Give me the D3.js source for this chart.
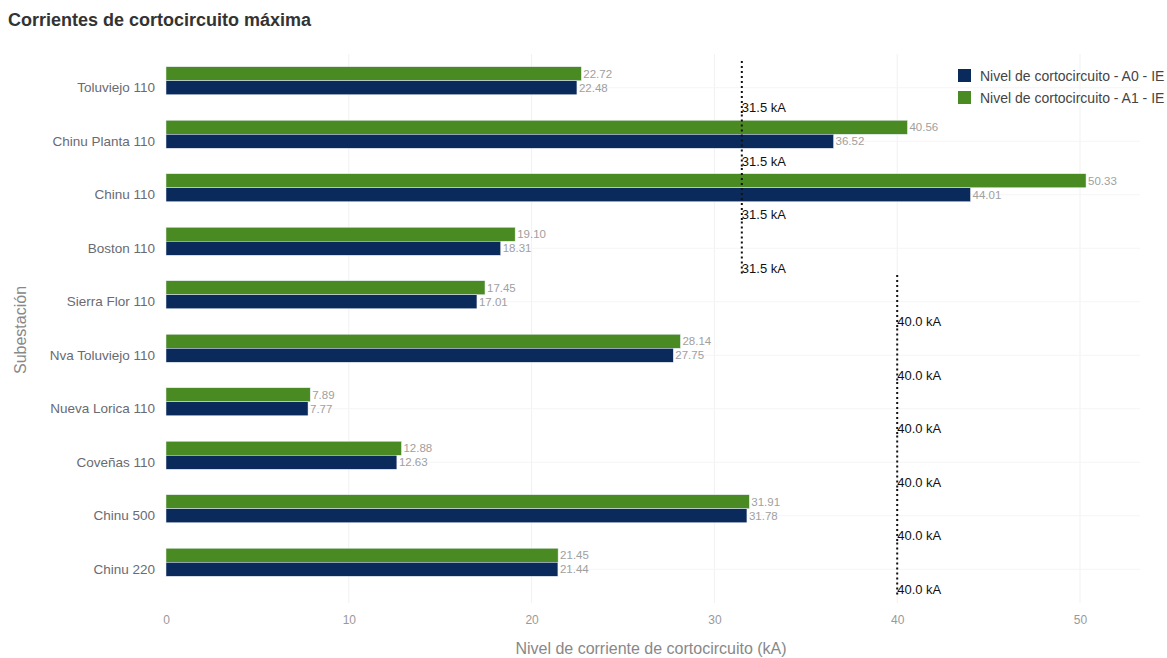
<!DOCTYPE html>
<html>
<head>
<meta charset="utf-8">
<script src="https://cdn.jsdelivr.net/npm/d3@7/dist/d3.min.js"></script>
<style>
  body { margin: 0; background: #fff; }
  svg { font-family: "Liberation Sans", Arial, sans-serif; }
</style>
</head>
<body>
<svg id="chart" width="1167" height="658"></svg>
<script>
const categories = ["Toluviejo 110", "Chinu Planta 110", "Chinu 110", "Boston 110", "Sierra Flor 110",
  "Nva Toluviejo 110", "Nueva Lorica 110", "Coveñas 110", "Chinu 500", "Chinu 220"];
const seriesNames = ["Nivel de cortocircuito - A1 - IE", "Nivel de cortocircuito - A0 - IE"];
const valuesA1 = [22.72, 40.56, 50.33, 19.10, 17.45, 28.14, 7.89, 12.88, 31.91, 21.45];
const valuesA0 = [22.48, 36.52, 44.01, 18.31, 17.01, 27.75, 7.77, 12.63, 31.78, 21.44];
const limits = [31.5, 31.5, 31.5, 31.5, 40, 40, 40, 40, 40, 40];
const xTicks = [0, 10, 20, 30, 40, 50];
const colors = { A0: "#0b2a5c", A1: "#4a8a22" };

const svg = d3.select("#chart");
const x = d3.scaleLinear().domain([0, 50]).range([166, 1080]);
// category axis (labels, grid, limit lines)
const yc = d3.scaleBand().domain(categories).range([61, 596]).padding(0);
// bar groups sit slightly above their category line
const y = d3.scaleBand().domain(categories).range([54, 589]).padding(0);
const sub = d3.scaleBand().domain(["A1", "A0"]).range([0, y.bandwidth()]).paddingInner(0).paddingOuter(0.91);

// grid
svg.append("g").selectAll("line").data(xTicks.slice(1)).join("line")
  .attr("x1", d => x(d)).attr("x2", d => x(d)).attr("y1", 54).attr("y2", 603)
  .attr("stroke", "#f1f1f1").attr("stroke-width", 1);
svg.append("g").selectAll("line").data(categories).join("line")
  .attr("x1", 166).attr("x2", 1140)
  .attr("y1", d => yc(d) + yc.bandwidth() / 2).attr("y2", d => yc(d) + yc.bandwidth() / 2)
  .attr("stroke", "#f5f5f5").attr("stroke-width", 1);

// title
svg.append("text").attr("x", 8).attr("y", 26).text("Corrientes de cortocircuito máxima")
  .attr("font-size", 18).attr("font-weight", "bold").attr("fill", "#333");

// bars
const rows = categories.map((c, i) => ({ c, A1: valuesA1[i], A0: valuesA0[i] }));
const g = svg.append("g");
["A1", "A0"].forEach(k => {
  g.selectAll("rect." + k).data(rows).join("rect").attr("class", k)
    .attr("x", x(0)).attr("y", d => y(d.c) + sub(k))
    .attr("width", d => x(d[k]) - x(0)).attr("height", sub.bandwidth())
    .attr("fill", colors[k]).attr("stroke", "#e8eef4").attr("stroke-width", 0.5);
  g.selectAll("text." + k).data(rows).join("text").attr("class", k)
    .attr("x", d => x(d[k]) + 2).attr("y", d => y(d.c) + sub(k) + sub.bandwidth() / 2)
    .attr("dy", "0.35em").attr("font-size", 11.5).attr("fill", "#a0a0a0")
    .text(d => d[k].toFixed(2));
});

// limit lines
const lim = categories.map((c, i) => ({ c, v: limits[i] }));
svg.append("g").selectAll("line").data(lim).join("line")
  .attr("x1", d => x(d.v)).attr("x2", d => x(d.v))
  .attr("y1", d => yc(d.c)).attr("y2", d => yc(d.c) + yc.bandwidth())
  .attr("stroke", "#111").attr("stroke-width", 2).attr("stroke-dasharray", "2,3");
svg.append("g").selectAll("text").data(lim).join("text")
  .attr("x", d => x(d.v)).attr("y", d => yc(d.c) + yc.bandwidth() - 7)
  .attr("dy", "0.35em").attr("font-size", 13).attr("fill", "#111")
  .text(d => d.v.toFixed(1) + " kA");

// y axis labels
const yAxis = d3.axisLeft(yc).tickSize(0).tickPadding(10);
const ya = svg.append("g").attr("transform", "translate(165,0)").call(yAxis);
ya.select(".domain").remove();
ya.selectAll("text").attr("font-size", 13.5).attr("fill", "#6a6a72").attr("font-family", "Liberation Sans, Arial, sans-serif");

// x axis labels
const xAxis = d3.axisBottom(x).tickValues(xTicks).tickSize(0).tickPadding(0).tickFormat(d3.format("d"));
const xa = svg.append("g").attr("transform", "translate(0,615)").call(xAxis);
xa.select(".domain").remove();
xa.selectAll("text").attr("font-size", 12).attr("fill", "#999").attr("font-family", "Liberation Sans, Arial, sans-serif");

// axis titles
svg.append("text").attr("x", 651).attr("y", 654).attr("text-anchor", "middle")
  .attr("font-size", 16).attr("fill", "#888").text("Nivel de corriente de cortocircuito (kA)");
svg.append("text").attr("transform", "translate(26,330) rotate(-90)").attr("text-anchor", "middle")
  .attr("font-size", 16).attr("fill", "#888").text("Subestación");

// legend
const leg = [{ k: "A0", n: seriesNames[1] }, { k: "A1", n: seriesNames[0] }];
const lg = svg.append("g").selectAll("g").data(leg).join("g")
  .attr("transform", (d, i) => `translate(958,${69 + i * 22})`);
lg.append("rect").attr("width", 13).attr("height", 13).attr("fill", d => colors[d.k]);
lg.append("text").attr("x", 22).attr("y", 7).attr("dy", "0.35em").attr("font-size", 14)
  .attr("fill", "#444").text(d => d.n);
</script>
</body>
</html>
